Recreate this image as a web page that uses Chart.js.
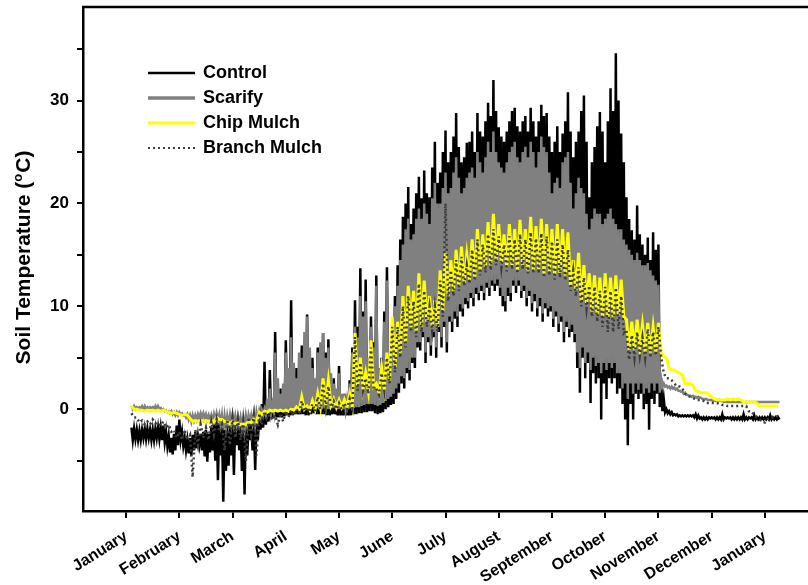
<!DOCTYPE html>
<html>
<head>
<meta charset="utf-8">
<script src="https://cdn.jsdelivr.net/npm/chart.js@4/dist/chart.umd.min.js"></script>
<style>
  html, body { margin: 0; padding: 0; background: #fff; overflow: hidden; }
  #chart { display: block; }
</style>
</head>
<body>
<canvas id="chart" width="808" height="585"></canvas>
<script>
// month tick labels (x axis is in months since 1 January)
const monthLabels = ["January", "February", "March", "April", "May", "June", "July",
  "August", "September", "October", "November", "December", "January"];
const yTickValues = [-5, 0, 5, 10, 15, 20, 25, 30, 35];

// readings start at 0.1 month; each reading is a high followed by a low
const sampleStart = 0.1;
const bareStep = 0.05;   // control and scarify plots
const mulchStep = 0.1;   // chip and branch mulch plots

// one row per month, 20 readings a row
const controlHi = [
  -1.8, -1.9, -2.0, -2.1, -2.0, -1.9, -1.9, -2.0, -2.0, -1.9, -1.8, -1.8, -1.6, -2.2, -2.6, -2.8, -2.4, -1.6, -1.0, -2.2,
  -2.8, -3.0, -2.8, -2.5, -2.2, -2.6, -2.4, -2.2, -2.0, -2.4, -1.8, -1.5, -1.0, -1.4, -1.5, -2.0, -1.2, -1.6, -1.4, -1.2,
  -1.2, -1.5, -1.0, -1.3, -1.5, -1.4, -1.2, -0.8, -0.6, 0.5, 4.6, -0.2, 3.8, 1.0, 7.5, 0.5, 2.0, 0.8, 6.7, 1.5,
  10.6, 2.0, 4.0, 1.5, 6.2, 3.0, 9.2, 2.5, 5.0, 1.2, 6.0, 4.5, 7.4, 5.5, 6.8, 1.5, 3.0, 0.5, 4.2, 1.0,
  1.5, 0.5, 2.8, 6.0, 10.6, 8.0, 13.7, 9.5, 12.6, 4.0, 9.0, 6.5, 13.0, 3.5, 5.0, 9.5, 13.8, 4.5, 6.5, 11.0,
  14.0, 16.5, 18.7, 20.0, 21.6, 18.0, 19.5, 21.0, 22.6, 20.5, 23.2, 21.0, 20.6, 23.5, 26.0, 22.0, 23.0, 25.0, 27.1, 24.0,
  25.0, 26.5, 28.8, 25.5, 24.0, 24.5, 25.9, 26.0, 27.0, 25.0, 28.8, 27.0, 26.5, 28.0, 29.8, 28.5, 32.0, 29.0, 27.4, 26.5,
  26.0, 27.0, 28.0, 29.0, 29.3, 27.5, 27.0, 28.0, 28.5, 27.0, 29.3, 28.0, 26.5, 28.0, 29.6, 28.5, 28.8, 26.5, 25.0, 26.0,
  27.5, 25.0, 26.8, 28.0, 30.8, 27.0, 24.5, 26.0, 27.0, 29.0, 30.5, 26.0, 20.6, 24.0, 25.5, 27.5, 28.9, 27.0, 24.0, 28.0,
  31.2, 29.0, 34.6, 30.0, 26.8, 24.0, 20.6, 18.5, 17.4, 16.5, 19.8, 17.0, 16.0, 15.0, 16.7, 14.5, 17.2, 15.5, 16.0, 3.0,
  1.0, 0.0, -0.2, -0.3, -0.5, -0.5, -0.6, -0.6, -0.6, -0.6, -0.6, -0.6, -0.5, -0.6, -0.8, -0.8, -0.8, -0.8, -0.8, -0.8,
  -0.8, -0.8, -0.5, -0.8, -0.8, -0.8, -0.8, -0.8, -0.8, -0.8, -0.5, -0.8, -0.8, -0.8, -0.6, -0.8, -0.8, -0.8, -0.8, -0.8,
  -0.6, -0.8, -0.8, -0.8
];
const controlLo = [
  -3.0, -2.9, -3.0, -3.0, -2.8, -2.9, -2.8, -3.0, -3.0, -2.8, -2.9, -3.0, -3.2, -3.6, -4.2, -4.4, -4.0, -3.5, -3.0, -3.6,
  -4.0, -4.3, -4.5, -4.0, -3.8, -3.5, -4.0, -4.6, -5.1, -4.2, -4.0, -5.0, -6.9, -4.5, -9.0, -6.0, -5.5, -4.5, -6.4, -3.5,
  -4.0, -6.0, -8.3, -4.5, -3.0, -4.0, -5.9, -3.0, -2.0, -1.8, -1.5, -1.2, -1.0, -0.9, -0.8, -0.8, -0.8, -0.7, -0.6, -0.6,
  -0.6, -0.5, -0.5, -0.5, -0.5, -0.6, -0.6, -0.5, -0.4, -0.5, -0.5, -0.5, -0.5, -0.6, -0.6, -0.5, -0.5, -0.6, -0.6, -0.6,
  -0.6, -0.6, -0.6, -0.5, -0.5, -0.4, -0.4, -0.3, -0.3, -0.2, -0.2, -0.4, -0.5, -0.4, -0.3, 0.0, 0.2, 0.4, 0.5, 1.0,
  1.6, 2.5, 2.0, 3.5, 2.8, 4.5, 4.0, 6.0, 5.7, 7.0, 4.5, 6.5, 5.2, 7.0, 5.0, 7.5, 6.0, 8.0, 5.5, 8.5,
  7.5, 8.8, 8.0, 9.5, 9.0, 10.2, 9.8, 10.8, 10.0, 11.2, 10.6, 11.5, 10.6, 11.8, 11.0, 12.0, 11.5, 12.0, 11.0, 10.0,
  9.5, 11.0, 10.5, 12.0, 11.3, 12.0, 10.8, 11.5, 10.0, 11.0, 9.5, 10.5, 9.0, 10.0, 8.5, 9.8, 9.0, 9.5, 8.0, 9.0,
  7.5, 8.5, 6.5, 8.0, 7.0, 7.5, 6.5, 4.0, 1.6, 5.0, 3.0, 4.5, 0.6, 3.5, 2.5, 3.0, -1.0, 2.5, 1.0, 3.0,
  2.5, 3.0, 1.5, 2.0, 0.5, -1.0, -3.5, 0.5, -1.0, 1.5, 1.0, 1.5, 0.0, 0.5, -2.0, 1.0, 0.5, 1.5, 0.2, -0.2,
  -0.3, -0.4, -0.5, -0.6, -0.6, -0.7, -0.7, -0.7, -0.7, -0.7, -0.7, -0.8, -0.9, -0.9, -1.0, -1.0, -1.0, -0.9, -0.9, -1.0,
  -1.0, -1.0, -1.0, -0.9, -0.9, -1.0, -1.0, -1.0, -1.0, -1.0, -1.0, -1.0, -0.9, -1.0, -1.0, -1.0, -1.0, -1.0, -1.0, -1.0,
  -1.0, -1.0, -1.0, -1.0
];

const scarifyHi = [
  0.3, 0.3, 0.2, 0.2, 0.3, 0.3, 0.2, 0.2, 0.2, 0.3, 0.3, 0.1, 0.0, -0.1, -0.2, -0.2, -0.3, -0.3, -0.3, -0.4,
  -0.5, -0.5, -0.6, -0.6, -0.6, -0.5, -0.4, -0.4, -0.5, -0.6, -0.6, -0.5, -0.4, -0.5, -0.6, -0.7, -0.7, -0.6, -0.6, -0.7,
  -0.7, -0.8, -0.8, -0.7, -0.6, -0.6, -0.5, -0.3, -0.2, -0.1, 0.0, 1.0, 2.0, 0.5, 5.5, 3.0, 1.5, 2.5, 5.5, 4.0,
  7.0, 4.5, 3.0, 5.5, 5.0, 7.5, 9.0, 6.0, 4.0, 3.0, 5.5, 6.5, 7.4, 5.0, 6.0, 3.5, 2.5, 2.0, 3.5, 1.5,
  1.5, 1.0, 2.5, 5.5, 8.0, 7.0, 11.0, 9.0, 10.5, 5.0, 8.0, 6.0, 12.0, 4.0, 4.5, 8.5, 12.5, 5.0, 6.0, 10.0,
  12.0, 14.5, 16.0, 17.5, 18.5, 16.5, 17.0, 18.5, 19.5, 18.5, 20.0, 19.0, 18.0, 20.5, 22.0, 20.0, 20.0, 21.5, 23.0, 21.0,
  21.5, 23.0, 24.5, 22.5, 21.0, 21.5, 22.5, 23.0, 23.5, 22.5, 25.0, 24.0, 23.0, 24.5, 26.0, 25.0, 27.0, 25.0, 24.0, 23.5,
  23.0, 24.0, 25.0, 25.5, 26.0, 24.5, 24.0, 25.0, 25.5, 24.5, 26.0, 25.0, 23.5, 25.0, 26.5, 25.5, 25.0, 23.0, 21.0, 22.0,
  22.5, 21.5, 24.0, 24.5, 25.0, 22.0, 19.5, 21.0, 22.5, 21.5, 21.0, 19.0, 17.5, 18.5, 19.5, 19.0, 19.0, 18.0, 18.5, 19.0,
  19.5, 18.5, 18.0, 17.5, 17.5, 16.5, 16.0, 15.5, 15.0, 14.5, 15.2, 14.5, 14.0, 14.0, 14.2, 13.5, 13.0, 12.5, 12.1, 3.0,
  2.5, 2.3, 2.2, 2.2, 2.1, 2.0, 1.8, 1.7, 1.6, 1.4, 1.3, 1.3, 1.2, 1.2, 1.1, 1.0, 1.0, 0.9, 0.9, 0.9,
  0.9, 0.9, 0.8, 0.8, 0.7, 0.7, 0.7, 0.7, 0.7, 0.7, 0.7, 0.7, 0.7, 0.7, 0.7, 0.7, 0.7, 0.7, 0.7, 0.7,
  0.7, 0.7, 0.7, 0.7
];
const scarifyLo = [
  0.0, 0.0, 0.1, 0.1, 0.0, 0.0, 0.1, 0.1, 0.0, 0.0, 0.0, -0.1, -0.2, -0.3, -0.4, -0.5, -0.6, -0.6, -0.5, -0.6,
  -0.8, -1.0, -1.2, -1.1, -1.0, -0.9, -0.8, -0.9, -1.0, -1.1, -1.2, -1.1, -1.0, -1.5, -2.0, -1.8, -1.5, -1.5, -1.5, -1.6,
  -1.5, -1.8, -2.0, -1.6, -1.2, -1.4, -1.5, -1.0, -0.8, -0.6, -0.5, -0.4, -0.3, -0.2, -0.2, -0.1, 0.0, 0.0, 0.0, 0.0,
  0.0, 0.0, 0.1, 0.0, 0.0, 0.1, 0.1, 0.1, 0.2, 0.1, 0.0, 0.0, 0.1, 0.0, 0.0, 0.1, 0.1, 0.0, 0.0, 0.0,
  0.0, 0.0, 0.1, 0.1, 0.2, 0.2, 0.3, 0.4, 0.5, 0.5, 0.5, 0.4, 0.3, 0.4, 0.6, 0.8, 1.0, 1.2, 1.5, 2.0,
  2.5, 3.2, 3.0, 4.0, 3.8, 5.0, 5.0, 6.5, 6.5, 7.5, 5.5, 7.0, 6.2, 7.5, 6.0, 8.0, 7.0, 8.5, 6.5, 9.0,
  8.5, 9.5, 9.0, 10.2, 9.8, 10.8, 10.5, 11.3, 10.8, 11.8, 11.3, 12.0, 11.3, 12.3, 11.8, 12.5, 12.2, 12.6, 11.8, 11.0,
  10.5, 11.8, 11.3, 12.5, 12.0, 12.5, 11.5, 12.0, 10.8, 11.5, 10.3, 11.2, 9.8, 10.8, 9.3, 10.3, 9.8, 10.0, 8.8, 9.5,
  8.3, 9.0, 7.5, 8.5, 7.8, 8.2, 7.3, 5.5, 4.0, 6.0, 4.5, 5.5, 3.8, 5.0, 4.2, 4.5, 3.5, 4.5, 3.8, 4.5,
  4.0, 4.5, 3.5, 3.5, 2.0, 2.5, 1.0, 2.5, 1.5, 2.5, 1.9, 2.5, 1.5, 2.0, 1.6, 2.5, 1.8, 2.5, 1.6, 2.2,
  2.2, 2.1, 2.0, 2.0, 1.9, 1.8, 1.7, 1.5, 1.4, 1.3, 1.2, 1.2, 1.1, 1.1, 1.0, 1.0, 0.9, 0.9, 0.8, 0.8,
  0.8, 0.8, 0.7, 0.7, 0.7, 0.7, 0.7, 0.7, 0.7, 0.7, 0.7, 0.7, 0.7, 0.7, 0.7, 0.7, 0.7, 0.7, 0.7, 0.7,
  0.7, 0.7, 0.7, 0.7
];

// one row per month, 10 readings a row
const chipHi = [
  0.3, 0.0, -0.1, -0.1, -0.1, -0.1, -0.1, -0.3, -0.3, -0.5,
  -0.5, -0.9, -1.1, -1.1, -1.1, -1.1, -0.8, -1.0, -1.2, -1.2,
  -1.4, -1.4, -1.2, -1.0, -0.3, -0.2, -0.1, -0.1, -0.1, -0.1,
  0.0, 0.2, 1.2, 0.3, 0.8, 1.5, 3.0, 2.8, 1.0, 0.9,
  0.9, 1.5, 7.4, 5.0, 3.5, 6.7, 2.5, 4.0, 5.5, 9.0,
  8.5, 11.0, 12.0, 11.5, 13.2, 12.5, 11.0, 10.6, 13.5, 15.2,
  14.5, 15.5, 15.8, 15.0, 16.5, 17.5, 17.0, 18.2, 19.0, 18.0,
  17.0, 18.0, 17.5, 18.4, 17.5, 18.7, 17.8, 18.5, 18.0, 17.5,
  18.0, 17.5, 17.2, 14.5, 15.2, 14.0, 13.2, 13.0, 12.8, 13.2,
  12.8, 13.0, 12.6, 8.7, 8.5, 8.7, 8.2, 8.4, 8.0, 8.4,
  5.1, 4.0, 3.8, 3.5, 2.5, 2.5, 1.8, 1.6, 1.6, 1.2,
  0.9, 0.9, 1.0, 1.0, 1.0, 0.7, 0.7, 0.7, 0.3, 0.3,
  0.3, 0.3
];
const chipLo = [
  0.0, -0.1, -0.2, -0.2, -0.2, -0.2, -0.2, -0.4, -0.4, -0.6,
  -0.6, -1.2, -1.2, -1.2, -1.2, -1.2, -1.0, -1.2, -1.4, -1.4,
  -1.5, -1.5, -1.3, -1.2, -0.5, -0.3, -0.2, -0.2, -0.2, -0.2,
  -0.1, -0.1, 0.0, -0.1, 0.0, 0.2, 0.5, 0.4, 0.2, 0.2,
  0.2, 0.3, 2.2, 2.0, 1.8, 2.2, 1.6, 2.0, 2.8, 4.0,
  5.5, 6.4, 8.0, 7.5, 8.0, 8.5, 8.0, 8.0, 9.5, 11.0,
  11.5, 11.9, 12.3, 12.6, 12.8, 13.5, 13.8, 14.0, 14.5, 14.2,
  13.8, 14.0, 13.5, 14.0, 13.5, 13.5, 13.6, 13.2, 13.4, 13.0,
  13.2, 13.0, 12.0, 11.6, 10.5, 10.3, 9.5, 9.2, 9.0, 9.0,
  9.0, 9.2, 9.0, 5.8, 5.8, 6.0, 5.6, 5.5, 5.6, 5.5,
  5.0, 3.8, 3.6, 3.3, 2.5, 2.3, 1.7, 1.6, 1.4, 1.0,
  0.9, 0.9, 0.9, 0.9, 0.9, 0.7, 0.7, 0.6, 0.3, 0.3,
  0.3, 0.3
];

const branchHi = [
  -0.4, -0.8, -1.1, -1.2, -1.0, -1.3, -1.2, -1.5, -2.0, -2.2,
  -2.0, -2.5, -2.0, -1.5, -1.8, -1.2, -1.0, -1.5, -1.0, -0.8,
  -1.0, -1.2, -0.8, -0.6, -0.4, -0.2, -0.3, -0.6, -0.4, -0.2,
  -0.1, 0.0, 0.8, 0.2, 0.5, 1.2, 2.5, 2.2, 0.8, 0.6,
  0.6, 1.0, 7.0, 4.5, 3.0, 6.0, 2.0, 3.5, 5.0, 8.0,
  8.0, 10.0, 11.0, 10.5, 12.2, 11.5, 10.0, 10.0, 12.5, 20.0,
  13.5, 14.5, 14.8, 14.0, 15.5, 16.5, 16.0, 17.0, 17.5, 16.8,
  16.0, 16.8, 16.5, 17.0, 16.5, 17.2, 16.6, 17.1, 16.8, 16.3,
  16.5, 16.0, 15.5, 13.5, 13.8, 12.8, 12.0, 11.9, 11.5, 11.9,
  11.5, 11.8, 11.0, 7.7, 7.2, 7.5, 7.0, 7.8, 7.5, 8.0,
  3.5, 3.0, 2.5, 2.2, 1.5, 1.2, 0.9, 0.9, 0.6, 0.6,
  0.6, 0.4, 0.3, 0.3, 0.3, 0.3, -0.2, -0.6, -1.0, -1.3,
  -0.8, -0.7
];
const branchLo = [
  -0.8, -1.3, -1.5, -1.5, -1.4, -1.6, -1.8, -2.2, -2.8, -3.0,
  -3.0, -6.6, -3.5, -2.8, -3.0, -2.5, -2.2, -4.0, -3.5, -2.8,
  -3.0, -5.0, -2.5, -4.5, -1.5, -1.0, -1.0, -1.5, -1.2, -0.8,
  -0.6, -0.4, -0.2, -0.3, -0.2, 0.0, 0.2, 0.2, 0.0, 0.0,
  0.0, 0.1, 1.8, 1.8, 1.5, 2.0, 1.4, 1.8, 2.5, 3.6,
  5.0, 6.0, 7.5, 7.0, 7.5, 8.0, 7.6, 7.6, 9.0, 10.5,
  11.0, 11.5, 12.0, 12.2, 12.5, 13.0, 13.3, 13.5, 14.0, 13.8,
  13.4, 13.6, 13.2, 13.6, 13.2, 13.2, 13.2, 12.8, 13.0, 12.6,
  12.8, 12.5, 11.5, 11.0, 10.0, 9.8, 9.0, 8.5, 8.0, 7.5,
  7.5, 7.8, 7.4, 4.8, 5.0, 5.2, 5.0, 5.0, 5.2, 5.1,
  3.0, 2.8, 2.2, 2.0, 1.3, 1.1, 0.9, 0.8, 0.6, 0.6,
  0.5, 0.4, 0.3, 0.3, 0.3, 0.3, -0.2, -0.8, -1.2, -1.0,
  -0.8, -0.7
];

// join highs and lows into one trace, the way an hourly logger draws it
function toTrace(hi, lo, step) {
  const pts = [];
  hi.forEach((h, i) => {
    const x = sampleStart + i * step;
    pts.push({ x: x, y: h });
    pts.push({ x: x + step / 2, y: lo[i] });
  });
  return pts;
}

const boldFont = "'Liberation Sans', Arial, sans-serif";

// legend in the top-left corner of the plot, drawn from the datasets
const legendPlugin = {
  id: "cornerLegend",
  afterDraw(chart) {
    const ctx = chart.ctx;
    ctx.save();
    chart.data.datasets.forEach((ds, i) => {
      const y = 73 + i * 25;
      ctx.beginPath();
      ctx.strokeStyle = ds.borderColor;
      ctx.lineWidth = ds.legendWidth;
      ctx.setLineDash(ds.borderDash || []);
      ctx.moveTo(148, y);
      ctx.lineTo(195, y);
      ctx.stroke();
      ctx.setLineDash([]);
      ctx.fillStyle = "#000";
      ctx.font = "bold 18px " + boldFont;
      ctx.textBaseline = "middle";
      ctx.textAlign = "left";
      ctx.fillText(ds.label, 203, y);
    });
    ctx.restore();
  }
};

// top frame line and the y axis title with the raised "o"
const framePlugin = {
  id: "frame",
  afterDraw(chart) {
    const ctx = chart.ctx;
    const area = chart.chartArea;
    ctx.save();
    ctx.beginPath();
    ctx.strokeStyle = "#000";
    ctx.lineWidth = 2.5;
    ctx.moveTo(area.left - 1, area.top);
    ctx.lineTo(chart.width, area.top);
    ctx.stroke();

    const big = "bold 21px " + boldFont;
    const small = "bold 13px " + boldFont;
    const partA = "Soil Temperature (";
    const partB = "o";
    const partC = "C)";
    ctx.font = big;
    const wA = ctx.measureText(partA).width;
    const wC = ctx.measureText(partC).width;
    ctx.font = small;
    const wB = ctx.measureText(partB).width;
    const total = wA + wB + wC;
    ctx.translate(30, 258);
    ctx.rotate(-Math.PI / 2);
    ctx.fillStyle = "#000";
    ctx.textAlign = "left";
    ctx.textBaseline = "alphabetic";
    let x = -total / 2;
    ctx.font = big;
    ctx.fillText(partA, x, 0);
    x += wA;
    ctx.font = small;
    ctx.fillText(partB, x, -8);
    x += wB + 1;
    ctx.font = big;
    ctx.fillText(partC, x, 0);
    ctx.restore();
  }
};

const ctx = document.getElementById("chart").getContext("2d");

new Chart(ctx, {
  type: "line",
  data: {
    datasets: [
      {
        label: "Control",
        data: toTrace(controlHi, controlLo, bareStep),
        borderColor: "#000000",
        borderWidth: 2.5,
        legendWidth: 2.5,
        order: 4
      },
      {
        label: "Scarify",
        data: toTrace(scarifyHi, scarifyLo, bareStep),
        borderColor: "#808080",
        borderWidth: 2.5,
        legendWidth: 3.5,
        order: 3
      },
      {
        label: "Chip Mulch",
        data: toTrace(chipHi, chipLo, mulchStep),
        borderColor: "#ffff00",
        borderWidth: 3,
        legendWidth: 3,
        order: 2
      },
      {
        label: "Branch Mulch",
        data: toTrace(branchHi, branchLo, mulchStep),
        borderColor: "#3c3c3c",
        borderWidth: 2.5,
        borderDash: [2, 3],
        legendWidth: 2,
        order: 1
      }
    ]
  },
  options: {
    responsive: false,
    animation: false,
    devicePixelRatio: 1,
    layout: { padding: { top: 7, right: 0, left: 0, bottom: 0 } },
    elements: {
      point: { radius: 0 },
      line: { tension: 0, fill: false, borderJoinStyle: "miter" }
    },
    plugins: {
      legend: { display: false },
      tooltip: { enabled: false }
    },
    scales: {
      x: {
        type: "linear",
        min: -0.81,
        max: 12.81,
        afterBuildTicks: (scale) => {
          scale.ticks = monthLabels.map((m, i) => ({ value: i }));
        },
        afterFit: (scale) => {
          scale.height = 74;
          scale.paddingLeft = 0;
          scale.paddingRight = 0;
        },
        ticks: {
          autoSkip: false,
          maxRotation: 32,
          minRotation: 32,
          padding: 9,
          color: "#000",
          font: { family: boldFont, size: 16, weight: "bold" },
          callback: (value) => monthLabels[value]
        },
        grid: {
          drawOnChartArea: false,
          drawTicks: true,
          tickLength: 7,
          color: "#000",
          lineWidth: 2
        },
        border: { color: "#000", width: 2.5 }
      },
      y: {
        type: "linear",
        min: -9.9,
        max: 39.1,
        afterBuildTicks: (scale) => {
          scale.ticks = yTickValues.map((v) => ({ value: v }));
        },
        afterFit: (scale) => {
          scale.width = 83;
          scale.paddingTop = 0;
          scale.paddingBottom = 0;
        },
        ticks: {
          padding: 8,
          color: "#000",
          font: { family: boldFont, size: 17, weight: "bold" },
          callback: (value) => (value % 10 === 0 ? String(value) : "")
        },
        grid: {
          drawOnChartArea: false,
          drawTicks: true,
          tickLength: 6,
          color: "#000",
          lineWidth: 2
        },
        border: { color: "#000", width: 2.5 }
      }
    }
  },
  plugins: [legendPlugin, framePlugin]
});
</script>
</body>
</html>
